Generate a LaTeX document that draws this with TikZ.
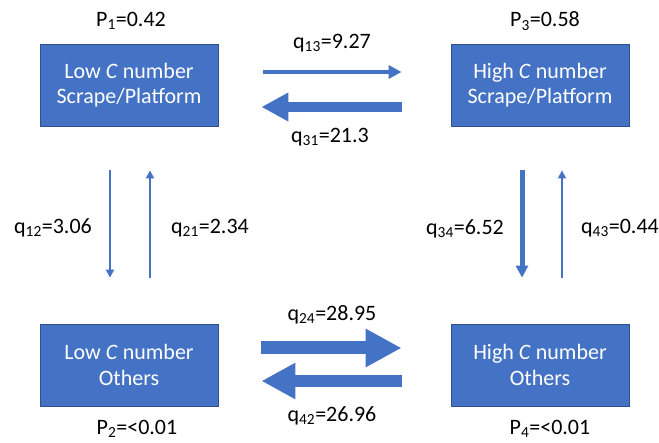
\documentclass[tikz,border=0pt]{standalone}
\usepackage{fontspec}
\setmainfont{Carlito}
\usetikzlibrary{arrows.meta,calc}
\definecolor{boxblue}{HTML}{4472C4}
\definecolor{boxedge}{HTML}{2F528F}
\tikzset{
  statebox/.style={draw=boxedge, line width=0.8pt, fill=boxblue, text=white,
    minimum width=178pt, minimum height=82pt, inner sep=0pt, align=center,
    font=\fontsize{22}{25.5}\selectfont},
  lbl/.style={text=black, inner sep=0pt, font=\fontsize{22}{25}\selectfont},
  flow/.style={draw=boxblue, line width=#1},
  tipA/.style={-{Triangle[length=#1,width=#1]}}
}
\begin{document}
\begin{tikzpicture}[x=1pt,y=-1pt]
\useasboundingbox (0,0) rectangle (659,443);
\node[statebox] (n1) at (129,85) {Low \textit{C} number\\Scrape/Platform};
\node[statebox] (n3) at (540,85) {High \textit{C} number\\Scrape/Platform};
\node[statebox] (n2) at (129,365) {Low \textit{C} number\\Others};
\node[statebox] (n4) at (540,365) {High \textit{C} number\\Others};

\node[lbl] (p1) at (131,21) {P\textsubscript{1}=0.42};
\node[lbl] (p3) at (545,21) {P\textsubscript{3}=0.58};
\node[lbl] (p2) at (137,429) {P\textsubscript{2}=<0.01};
\node[lbl] (p4) at (550,429) {P\textsubscript{4}=<0.01};

\node[lbl] (l13) at (332,43) {q\textsubscript{13}=9.27};
\node[lbl] (l31) at (330,137) {q\textsubscript{31}=21.3};
\node[lbl] (l24) at (332,315) {q\textsubscript{24}=28.95};
\node[lbl] (l42) at (332,416) {q\textsubscript{42}=26.96};
\node[lbl] (l12) at (53,228) {q\textsubscript{12}=3.06};
\node[lbl] (l21) at (210,228) {q\textsubscript{21}=2.34};
\node[lbl] (l34) at (465,229) {q\textsubscript{34}=6.52};
\node[lbl] (l43) at (620,228) {q\textsubscript{43}=0.44};

% horizontal top
\draw[flow=4pt, tipA=13pt] ($(n1.east)+(45,-13)$) -- ($(n3.west)+(-49,-13)$);
\draw[flow=10pt, tipA=27pt] ($(n3.west)+(-49,22)$) -- ($(n1.east)+(43,22)$);
% horizontal bottom
\draw[flow=13pt, tipA=36pt] ($(n2.east)+(43,-17)$) -- ($(n4.west)+(-49,-17)$);
\draw[flow=12pt, tipA=34pt] ($(n4.west)+(-49,16)$) -- ($(n2.east)+(43,16)$);
% vertical left
\draw[flow=2pt, tipA=8pt] ($(n1.south)+(-19,44)$) -- ($(n2.north)+(-19,-46)$);
\draw[flow=2pt, tipA=8pt] ($(n2.north)+(21,-46)$) -- ($(n1.south)+(21,44)$);
% vertical right
\draw[flow=5pt, tipA=12pt] ($(n3.south)+(-18,44)$) -- ($(n4.north)+(-18,-46)$);
\draw[flow=1.5pt, tipA=8pt] ($(n4.north)+(22,-46)$) -- ($(n3.south)+(22,44)$);
\end{tikzpicture}
\end{document}
